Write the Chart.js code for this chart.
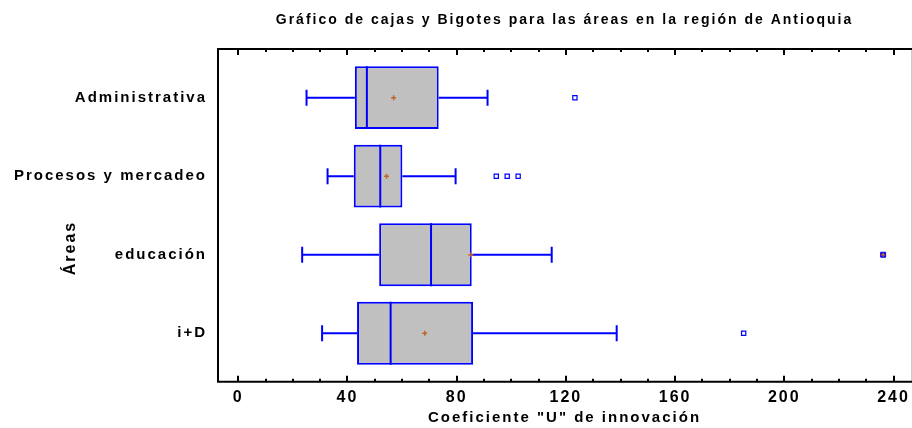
<!DOCTYPE html>
<html lang="es">
<head>
<meta charset="UTF-8">
<title>Cajas y bigotes - Antioquia</title>
<script src="https://cdn.jsdelivr.net/npm/chart.js"></script>
<style>
  body { margin: 0; background: #fff; }
  #caja { position: relative; width: 912px; height: 428px; }
</style>
</head>
<body>
<div id="caja"><canvas id="grafico"></canvas></div>
<script>
  // datos
  const areas = ['Administrativa', 'Procesos y mercadeo', 'educación', 'i+D'];
  const minimos = [25.0, 32.7, 23.4, 30.7];
  const cuartil1 = [42.7, 42.3, 51.6, 43.5];
  const medianas = [47.1, 52.0, 70.6, 55.8];
  const cuartil3 = [73.4, 60.1, 85.5, 86.0];
  const maximos = [91.3, 79.6, 114.8, 138.6];
  const medias = [56.9, 54.3, 85.2, 68.3];
  const atipicos = [[123.3], [94.5, 98.5, 102.5], [], [185.1]];
  const atipicosLejanos = [[], [], [236.2], []];
  const xTicks = [0, 40, 80, 120, 160, 200, 240];
  const xMenor = 10;

  const azul = '#0000ff';
  const cafe = '#c0642a';
  const medioAlto = 0.4; // mitad de la altura de la caja (en unidades de categoria)

  const corte = { x: null, y: null };

  const cajas = areas.map((a, i) => ({ x: [cuartil1[i], cuartil3[i]], y: i }));
  const bigotes = [];
  const lineasMediana = [];
  const topes = [];
  areas.forEach((a, i) => {
    bigotes.push({ x: minimos[i], y: i }, { x: cuartil1[i], y: i }, corte,
                 { x: cuartil3[i], y: i }, { x: maximos[i], y: i }, corte);
    lineasMediana.push({ x: medianas[i], y: i - medioAlto }, { x: medianas[i], y: i + medioAlto }, corte);
    topes.push({ x: minimos[i], y: i }, { x: maximos[i], y: i });
  });
  const puntosMedia = medias.map((m, i) => ({ x: m, y: i }));
  const puntosAtipicos = [];
  atipicos.forEach((lista, i) => lista.forEach(v => puntosAtipicos.push({ x: v, y: i })));
  const puntosLejanos = [];
  atipicosLejanos.forEach((lista, i) => lista.forEach(v => puntosLejanos.push({ x: v, y: i })));

  Chart.defaults.font.family = "'Liberation Sans', Arial, sans-serif";
  Chart.defaults.color = '#000';

  // el texto original se ve ensanchado
  const espaciado = {
    id: 'espaciado',
    beforeLayout(chart) { chart.ctx.letterSpacing = '2px'; },
    beforeDraw(chart) { chart.ctx.letterSpacing = '2px'; }
  };

  // marco con marcas hacia adentro y titulo del eje Y
  const marco = {
    id: 'marco',
    afterDraw(chart) {
      const { ctx, chartArea: a } = chart;
      const x = chart.scales.x;
      ctx.save();
      ctx.strokeStyle = '#cccccc';
      ctx.lineWidth = 1;
      ctx.beginPath();
      ctx.moveTo(a.right + 0.5, a.top);
      ctx.lineTo(a.right + 0.5, a.bottom);
      ctx.stroke();

      ctx.strokeStyle = '#000';
      ctx.lineWidth = 2;
      ctx.beginPath();
      ctx.moveTo(a.left, a.top);
      ctx.lineTo(chart.width, a.top);
      ctx.moveTo(a.left, a.bottom);
      ctx.lineTo(chart.width, a.bottom);
      ctx.moveTo(a.left, a.top - 1);
      ctx.lineTo(a.left, a.bottom + 1);
      for (let v = 0; v <= x.max; v += xMenor) {
        const px = Math.round(x.getPixelForValue(v));
        const largo = xTicks.includes(v) ? 6 : 3;
        ctx.moveTo(px, a.top);
        ctx.lineTo(px, a.top + largo);
        ctx.moveTo(px, a.bottom);
        ctx.lineTo(px, a.bottom - largo);
      }
      ctx.stroke();

      ctx.translate(71, 248);
      ctx.rotate(-Math.PI / 2);
      ctx.font = "bold 16px 'Liberation Sans', Arial, sans-serif";
      ctx.fillStyle = '#000';
      ctx.textAlign = 'center';
      ctx.textBaseline = 'middle';
      ctx.fillText('Áreas', 0, 0);
      ctx.restore();
    }
  };

  new Chart(document.getElementById('grafico'), {
    type: 'bar',
    data: {
      datasets: [
        {
          type: 'scatter',
          data: puntosLejanos,
          pointStyle: 'cross',
          pointRadius: 2,
          borderColor: cafe,
          borderWidth: 1.5,
          order: 0
        },
        {
          type: 'scatter',
          data: puntosLejanos,
          pointStyle: 'rect',
          pointRadius: 3.5,
          backgroundColor: azul,
          borderColor: azul,
          borderWidth: 1,
          order: 1
        },
        {
          type: 'scatter',
          data: puntosAtipicos,
          pointStyle: 'rect',
          pointRadius: 3,
          backgroundColor: '#ffffff',
          borderColor: azul,
          borderWidth: 1.2,
          order: 2
        },
        {
          type: 'scatter',
          data: puntosMedia,
          pointStyle: 'cross',
          pointRadius: 2.5,
          borderColor: cafe,
          borderWidth: 1.5,
          order: 3
        },
        {
          type: 'line',
          data: lineasMediana,
          borderColor: azul,
          borderWidth: 2,
          pointRadius: 0,
          spanGaps: false,
          order: 4
        },
        {
          type: 'scatter',
          data: topes,
          pointStyle: 'line',
          rotation: 90,
          pointRadius: 8,
          borderColor: azul,
          borderWidth: 2,
          order: 5
        },
        {
          type: 'line',
          data: bigotes,
          borderColor: azul,
          borderWidth: 2,
          pointRadius: 0,
          spanGaps: false,
          order: 6
        },
        {
          type: 'bar',
          indexAxis: 'y',
          data: cajas,
          backgroundColor: '#c0c0c0',
          borderColor: azul,
          borderWidth: 2,
          borderSkipped: false,
          barPercentage: 0.8,
          categoryPercentage: 1,
          order: 7
        }
      ]
    },
    options: {
      responsive: true,
      maintainAspectRatio: false,
      animation: false,
      events: [],
      layout: { autoPadding: false, padding: { left: 0, right: 1, top: 0, bottom: 0 } },
      plugins: {
        legend: { display: false },
        tooltip: { enabled: false },
        title: {
          display: true,
          text: 'Gráfico de cajas y Bigotes para las áreas en la región de Antioquia',
          fullSize: false,
          font: { size: 14, weight: 'bold' },
          color: '#000',
          padding: { top: 12, bottom: 20.2 }
        }
      },
      scales: {
        x: {
          type: 'linear',
          position: 'bottom',
          offset: false,
          min: -7.43,
          max: 246.4,
          afterBuildTicks: (s) => { s.ticks = xTicks.map(v => ({ value: v })); },
          afterFit: (s) => { s.height = 46.3; s.paddingLeft = 0; s.paddingRight = 0; },
          grid: { display: false, drawTicks: false, offset: false },
          border: { display: false },
          ticks: {
            font: { size: 16, weight: 'bold' },
            padding: 6,
            maxRotation: 0,
            autoSkip: false
          },
          title: {
            display: true,
            text: 'Coeficiente "U" de innovación',
            font: { size: 15, weight: 'bold' },
            padding: { top: 0, bottom: 1 }
          }
        },
        y: {
          type: 'linear',
          position: 'left',
          offset: false,
          reverse: true,
          min: -0.62,
          max: 3.617,
          afterBuildTicks: (s) => { s.ticks = areas.map((a, i) => ({ value: i })); },
          afterFit: (s) => { s.width = 218; s.paddingTop = 0; s.paddingBottom = 0; },
          grid: { display: false, drawTicks: false, offset: false },
          border: { display: false },
          ticks: {
            font: { size: 15, weight: 'bold' },
            padding: 11,
            autoSkip: false,
            callback: (v) => areas[v]
          }
        }
      }
    },
    plugins: [espaciado, marco]
  });
</script>
</body>
</html>
